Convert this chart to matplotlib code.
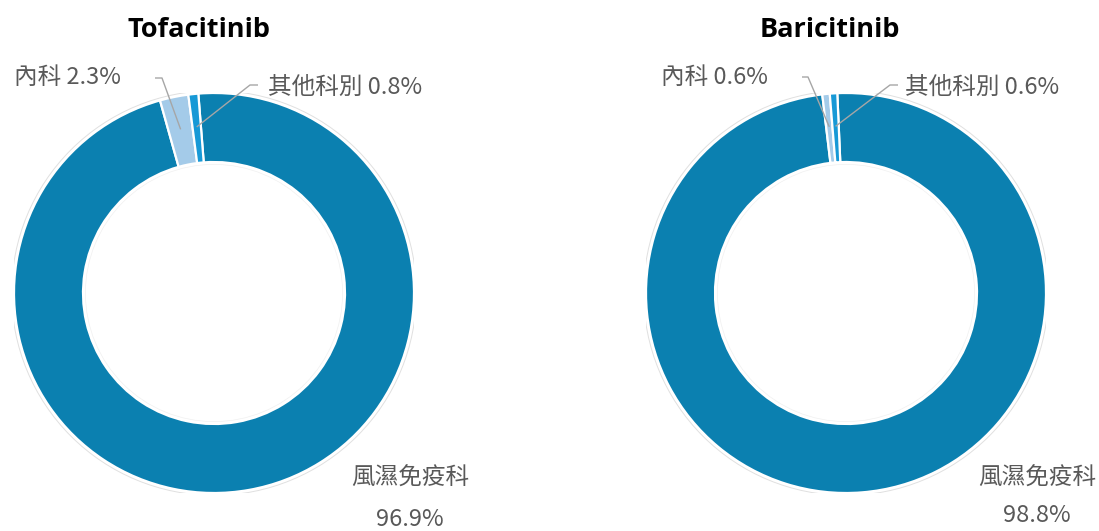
import matplotlib
matplotlib.use("Agg")
import matplotlib.pyplot as plt
from matplotlib.patches import Circle
import numpy as np

# Department share of prescriptions for each JAK inhibitor (%)
categories = ["風濕免疫科", "內科", "其他科別"]
drugs = ["Tofacitinib", "Baricitinib"]
tofacitinib_share = [96.9, 2.3, 0.8]
baricitinib_share = [98.8, 0.6, 0.6]
shares = [tofacitinib_share, baricitinib_share]

colors = ["#0B80B0", "#A4CBE9", "#1799D6"]
TEXT = "#595959"
LINE = "#A6A6A6"
CJK = ["Noto Sans CJK TC", "DejaVu Sans"]
LATIN_BOLD = ["Open Sans", "DejaVu Sans"]

W, H = 1099, 531
R_PX = 200          # outer radius in pixels
RING = 0.345        # ring width as a fraction of the radius

# Pixel layout of each donut and its labels
layouts = [
    dict(center=(214, 293), title=(199, 30), start=94.5,
         small=[((67, 78), "center", [(155, 78), (162, 78)]),
                ((268, 87), "left", [(258, 85), (250, 85)])],
         main=(410, 478), main_pct=(410, 519)),
    dict(center=(846, 293), title=(830, 30), start=92.5,
         small=[((714, 78), "center", [(802, 77), (808, 77)]),
                ((905, 87), "left", [(898, 85), (890, 85)])],
         main=(1037, 478), main_pct=(1037, 516)),
]

fig = plt.figure(figsize=(W / 100, H / 100), dpi=100)
fig.patch.set_facecolor("white")


def fmt(v):
    return f"{v:.1f}%"


for drug, values, lay in zip(drugs, shares, layouts):
    cx, cy = lay["center"]
    ax = fig.add_axes([(cx - R_PX) / W, (H - cy - R_PX) / H,
                       2 * R_PX / W, 2 * R_PX / H])

    def px(p, cx=cx, cy=cy):
        return ((p[0] - cx) / R_PX, (cy - p[1]) / R_PX)

    wedges, _ = ax.pie(values, colors=colors, startangle=lay["start"],
                       counterclock=False, radius=1.0,
                       wedgeprops=dict(width=RING, edgecolor="white",
                                       linewidth=1.6))
    # faint outline around the ring
    ax.add_patch(Circle((0, 0), 1.012, fill=False, ec="#E0E0E0", lw=0.7,
                        zorder=0))
    ax.add_patch(Circle((0, 0), 1 - RING - 0.012, fill=False, ec="#F0F0F0",
                        lw=0.5, zorder=0))
    ax.set_xlim(-1, 1)
    ax.set_ylim(-1, 1)
    ax.set_aspect("equal")
    ax.axis("off")

    # title
    tx, ty = px(lay["title"])
    ax.text(tx, ty, drug, ha="center", va="center", fontsize=19.5,
            fontweight="bold", family=LATIN_BOLD, color="black",
            clip_on=False)

    # small slices: label with elbow leader line to the wedge
    for i, (tpos, ha, elbow) in zip([1, 2], lay["small"]):
        w = wedges[i]
        mid = np.deg2rad((w.theta1 + w.theta2) / 2)
        r_end = 0.835
        end = (r_end * np.cos(mid), r_end * np.sin(mid))
        pts = [px(elbow[0]), px(elbow[1]), end]
        ax.plot([p[0] for p in pts], [p[1] for p in pts], color=LINE,
                lw=1.0, clip_on=False, solid_capstyle="butt")
        lx, ly = px(tpos)
        ax.text(lx, ly, f"{categories[i]} {fmt(values[i])}", ha=ha,
                va="center", fontsize=17, family=CJK, color=TEXT,
                clip_on=False)

    # main slice label
    mx, my = px(lay["main"])
    ax.text(mx, my, categories[0], ha="center", va="center", fontsize=17,
            family=CJK, color=TEXT, clip_on=False)
    mx, my = px(lay["main_pct"])
    ax.text(mx, my, fmt(values[0]), ha="center", va="center", fontsize=17,
            family=CJK, color=TEXT, clip_on=False)

fig.savefig("out.png", dpi=100, facecolor="white")
